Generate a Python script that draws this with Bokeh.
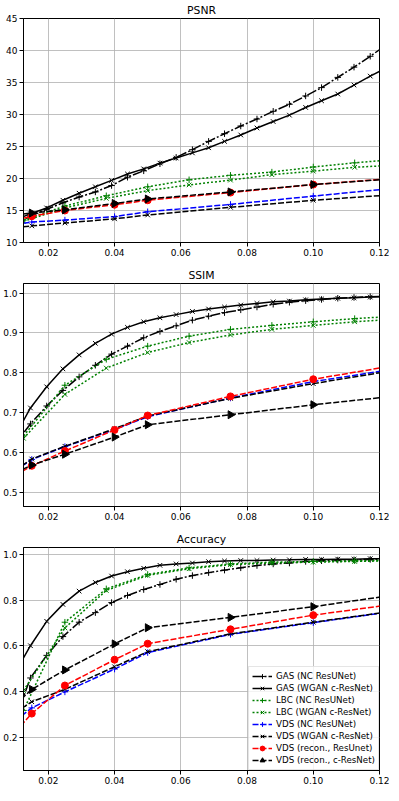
import math
from bokeh.plotting import figure
from bokeh.layouts import column
from bokeh.models import Legend, LegendItem, NumeralTickFormatter, Range1d
from bokeh.embed import file_html
from bokeh.resources import INLINE

# ---------------- data ----------------
LABELS = ["GAS (NC ResUNet)", "GAS (WGAN c-ResNet)", "LBC (NC ResUNet)", "LBC (WGAN c-ResNet)",
          "VDS (NC ResUNet)", "VDS (WGAN c-ResNet)", "VDS (recon., ResUnet)", "VDS (recon., c-ResNet)"]

X_TICKS = [0.02, 0.04, 0.06, 0.08, 0.10, 0.12]
PSNR_TICKS = [10, 15, 20, 25, 30, 35, 40, 45]
SSIM_TICKS = [0.5, 0.6, 0.7, 0.8, 0.9, 1.0]
ACC_TICKS = [0.2, 0.4, 0.6, 0.8, 1.0]

X_GAS = [0.0098, 0.0146, 0.0195, 0.0244, 0.0293, 0.0342, 0.0391, 0.0439, 0.0488, 0.0537, 0.0586, 0.0635,
         0.0684, 0.0732, 0.0781, 0.0830, 0.0879, 0.0928, 0.0977, 0.1025, 0.1074, 0.1123, 0.1172, 0.1221]
X_LBC = [0.0125, 0.025, 0.0375, 0.05, 0.0625, 0.075, 0.0875, 0.1, 0.1125, 0.125]
X_VDS = [0.01, 0.015, 0.025, 0.04, 0.05, 0.075, 0.1, 0.125]

PSNR_GAS_NC = [13.0, 14.1, 15.2, 16.2, 17.1, 17.9, 18.9, 20.2, 21.2, 22.3, 23.3, 24.5, 25.8, 27.0, 28.2, 29.3,
               30.5, 31.6, 32.9, 34.2, 35.8, 37.4, 39.1, 40.9]
PSNR_GAS_WGAN = [13.5, 14.5, 15.4, 16.6, 17.7, 18.7, 19.7, 20.7, 21.5, 22.4, 23.2, 24.0, 24.8, 25.8, 26.8, 27.9,
                 28.9, 29.9, 31.1, 32.15, 33.2, 34.6, 36.0, 37.3]
PSNR_LBC_NC = [13.5, 15.7, 17.3, 18.7, 19.8, 20.5, 21.0, 21.8, 22.45, 23.0]
PSNR_LBC_WGAN = [13.3, 15.4, 16.9, 18.1, 19.0, 19.75, 20.6, 21.15, 21.75, 22.1]
PSNR_VDS_NC = [12.8, 13.2, 13.5, 14.05, 14.8, 15.95, 17.25, 18.5]
PSNR_VDS_WGAN = [12.3, 12.6, 13.05, 13.7, 14.3, 15.5, 16.6, 17.5]
PSNR_VDS_REC_RES = [13.5, 14.1, 15.0, 15.9, 16.6, 17.8, 19.05, 20.05]
PSNR_VDS_REC_CRES = [14.3, 14.6, 15.1, 16.1, 16.8, 17.9, 19.05, 20.0]

SSIM_GAS_NC = [0.62, 0.672, 0.717, 0.756, 0.790, 0.819, 0.847, 0.867, 0.888, 0.904, 0.918, 0.932, 0.942, 0.951,
               0.958, 0.965, 0.972, 0.977, 0.981, 0.984, 0.987, 0.989, 0.991, 0.992]
SSIM_GAS_WGAN = [0.64, 0.712, 0.765, 0.810, 0.845, 0.874, 0.897, 0.914, 0.928, 0.938, 0.946, 0.954, 0.960, 0.965,
                 0.970, 0.974, 0.978, 0.980, 0.983, 0.985, 0.987, 0.988, 0.990, 0.991]
SSIM_LBC_NC = [0.642, 0.769, 0.834, 0.867, 0.892, 0.909, 0.919, 0.928, 0.936, 0.942]
SSIM_LBC_WGAN = [0.636, 0.746, 0.812, 0.851, 0.876, 0.895, 0.909, 0.919, 0.928, 0.935]
SSIM_VDS_NC = [0.555, 0.583, 0.615, 0.658, 0.690, 0.737, 0.778, 0.810]
SSIM_VDS_WGAN = [0.556, 0.584, 0.616, 0.660, 0.692, 0.736, 0.773, 0.807]
SSIM_VDS_REC_RES = [0.543, 0.567, 0.604, 0.657, 0.693, 0.741, 0.784, 0.819]
SSIM_VDS_REC_CRES = [0.549, 0.569, 0.596, 0.639, 0.670, 0.695, 0.720, 0.742]

ACC_GAS_NC = [0.27, 0.460, 0.559, 0.641, 0.704, 0.746, 0.790, 0.821, 0.847, 0.869, 0.892, 0.908, 0.921, 0.932,
              0.942, 0.952, 0.959, 0.963, 0.970, 0.973, 0.976, 0.977, 0.979, 0.980]
ACC_GAS_WGAN = [0.48, 0.601, 0.708, 0.782, 0.840, 0.878, 0.906, 0.925, 0.940, 0.953, 0.959, 0.963, 0.969, 0.972,
                0.974, 0.974, 0.976, 0.977, 0.979, 0.979, 0.980, 0.980, 0.982, 0.982]
ACC_LBC_NC = [0.318, 0.704, 0.850, 0.913, 0.942, 0.959, 0.967, 0.970, 0.973, 0.975]
ACC_LBC_WGAN = [0.405, 0.679, 0.843, 0.909, 0.938, 0.956, 0.963, 0.967, 0.970, 0.973]
ACC_VDS_NC = [0.273, 0.329, 0.399, 0.499, 0.571, 0.651, 0.702, 0.753]
ACC_VDS_WGAN = [0.308, 0.356, 0.410, 0.509, 0.575, 0.653, 0.704, 0.754]
ACC_VDS_REC_RES = [0.224, 0.304, 0.427, 0.540, 0.610, 0.673, 0.735, 0.784]
ACC_VDS_REC_CRES = [0.344, 0.410, 0.495, 0.609, 0.680, 0.725, 0.772, 0.824]

# ---------------- styles ----------------
FONT = "DejaVu Sans"
# (color, dash, marker) per series, in legend order
STYLES = [
    ("black", "10 2 2 2", "cross"),
    ("black", "solid", "x"),
    ("green", "2 2", "cross"),
    ("green", "2 2", "x"),
    ("blue", "6 2", "cross"),
    ("black", "6 2", "x"),
    ("red", "6 2", "circle"),
    ("black", "6 2", "tri"),
]


def series(p, x, y, style):
    color, dash, marker = style
    rs = [p.line(x, y, line_color=color, line_width=1.5, line_dash=dash)]
    if marker == "circle":
        rs.append(p.scatter(x, y, marker="circle", size=7, fill_color=color, line_color=color))
    elif marker == "tri":
        rs.append(p.scatter(x, y, marker="triangle", angle=-math.pi / 2, size=8,
                            fill_color=color, line_color=color))
    else:
        rs.append(p.scatter(x, y, marker=marker, size=6.5, line_color=color, line_width=1))
    return rs


def make_fig(title, yr, yticks, yfmt, frame_h):
    p = figure(frame_width=356, frame_height=frame_h, title=title,
               x_range=Range1d(0.0125, 0.12), y_range=Range1d(*yr),
               output_backend="svg", toolbar_location=None,
               min_border_left=23, min_border_right=10, min_border_top=0, min_border_bottom=0)
    p.title.align = "center"
    p.title.text_font = FONT
    p.title.text_font_size = "10.8px"
    p.title.text_font_style = "normal"
    p.title.text_color = "black"
    p.title.standoff = 3
    p.xaxis.ticker = X_TICKS
    p.yaxis.ticker = yticks
    p.xaxis.formatter = NumeralTickFormatter(format="0.00")
    p.yaxis.formatter = NumeralTickFormatter(format=yfmt)
    for ax in (p.xaxis[0], p.yaxis[0]):
        ax.major_label_text_font = FONT
        ax.major_label_text_font_size = "9px"
        ax.major_label_text_color = "black"
        ax.major_label_standoff = 2
        ax.major_tick_out = 4
        ax.major_tick_in = 0
        ax.major_tick_line_color = "black"
        ax.minor_tick_line_color = None
        ax.axis_line_color = "black"
    p.grid.grid_line_color = "#b0b0b0"
    p.grid.grid_line_width = 0.8
    p.outline_line_color = "black"
    p.outline_line_alpha = 1
    p.outline_line_width = 1
    p.background_fill_color = "white"
    p.border_fill_color = "white"
    return p


p1 = make_fig("PSNR", (10, 45), PSNR_TICKS, "0", 224)
p2 = make_fig("SSIM", (0.465, 1.024), SSIM_TICKS, "0.0", 223)
p3 = make_fig("Accuracy", (0.055, 1.031), ACC_TICKS, "0.0", 223)

PANELS = [
    (p1, [PSNR_GAS_NC, PSNR_GAS_WGAN, PSNR_LBC_NC, PSNR_LBC_WGAN,
          PSNR_VDS_NC, PSNR_VDS_WGAN, PSNR_VDS_REC_RES, PSNR_VDS_REC_CRES]),
    (p2, [SSIM_GAS_NC, SSIM_GAS_WGAN, SSIM_LBC_NC, SSIM_LBC_WGAN,
          SSIM_VDS_NC, SSIM_VDS_WGAN, SSIM_VDS_REC_RES, SSIM_VDS_REC_CRES]),
    (p3, [ACC_GAS_NC, ACC_GAS_WGAN, ACC_LBC_NC, ACC_LBC_WGAN,
          ACC_VDS_NC, ACC_VDS_WGAN, ACC_VDS_REC_RES, ACC_VDS_REC_CRES]),
]
XS = [X_GAS, X_GAS, X_LBC, X_LBC, X_VDS, X_VDS, X_VDS, X_VDS]

legend_items = []
for p, ys in PANELS:
    for i, (x, y) in enumerate(zip(XS, ys)):
        rs = series(p, x, y, STYLES[i])
        if p is p3:
            legend_items.append(LegendItem(label=LABELS[i], renderers=rs))

legend = Legend(items=legend_items, location="bottom_right",
                label_text_font=FONT, label_text_font_size="8.7px", label_text_color="black",
                glyph_width=20, glyph_height=12, label_height=12, label_standoff=4,
                padding=3, spacing=0, margin=0,
                border_line_color="#cccccc", border_line_width=1,
                background_fill_color="white", background_fill_alpha=0.8)
p3.add_layout(legend)

layout = column(p1, p2, p3, spacing=7)
open("out.html", "w").write(file_html(layout, INLINE))
